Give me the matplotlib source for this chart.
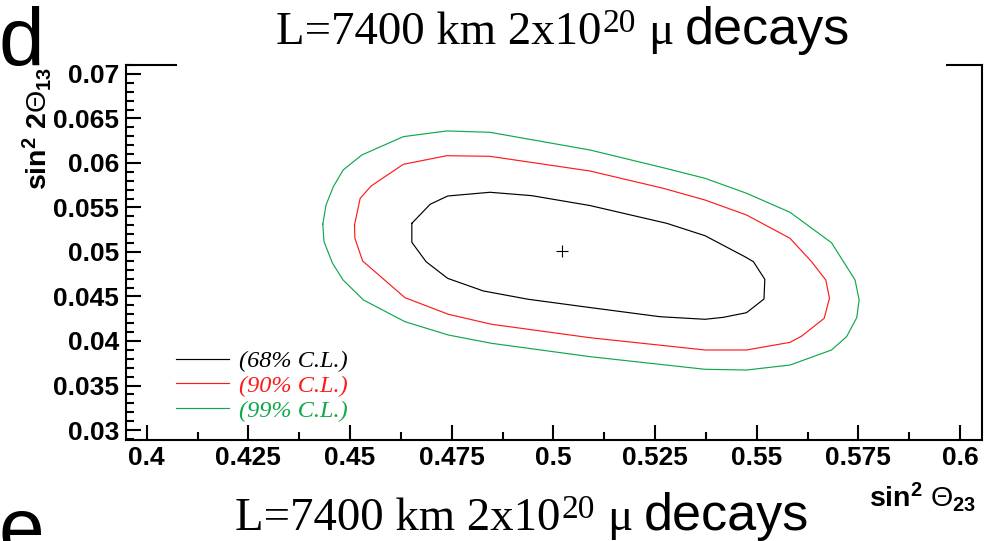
import numpy as np
import matplotlib
matplotlib.use("Agg")
import matplotlib.pyplot as plt
from matplotlib.patches import Rectangle
from matplotlib.font_manager import FontProperties

plt.rcParams['font.family'] = ['Liberation Sans', 'DejaVu Sans']
plt.rcParams['mathtext.fontset'] = 'custom'
plt.rcParams['mathtext.rm'] = 'Liberation Sans'
plt.rcParams['mathtext.bf'] = 'Liberation Sans:bold'
plt.rcParams['mathtext.it'] = 'Liberation Sans:italic'

# best fit point (sin^2 theta23, sin^2 2theta13)
best_fit = (0.5022, 0.05015)

# confidence level contours
cl68_x = [0.4652, 0.4697, 0.4740, 0.4844, 0.4947, 0.5090, 0.5279, 0.5373,
          0.5471, 0.5492, 0.5520, 0.5518, 0.5475, 0.5418, 0.5373, 0.5262,
          0.5090, 0.4938, 0.4828, 0.4740, 0.4687, 0.4652]
cl68_y = [0.05322, 0.05536, 0.05629, 0.05671, 0.05633, 0.05522, 0.05322, 0.05183,
          0.04947, 0.04891, 0.04693, 0.04472, 0.04318, 0.04266, 0.04244, 0.04273,
          0.04376, 0.04469, 0.04562, 0.04704, 0.04891, 0.05109]

cl90_x = [0.4511, 0.4525, 0.4552, 0.4631, 0.4738, 0.4844, 0.5090, 0.5270,
          0.5373, 0.5475, 0.5582, 0.5635, 0.5670, 0.5679, 0.5666, 0.5611,
          0.5582, 0.5475, 0.5373, 0.5090, 0.4848, 0.4742, 0.4635, 0.4531, 0.4512]
cl90_y = [0.05303, 0.05603, 0.05742, 0.05985, 0.06082, 0.06075, 0.05910, 0.05716,
          0.05584, 0.05416, 0.05154, 0.04891, 0.04685, 0.04480, 0.04255, 0.04056,
          0.03985, 0.03899, 0.03899, 0.04037, 0.04188, 0.04300, 0.04487, 0.04899, 0.05154]

cl99_x = [0.4433, 0.4441, 0.4459, 0.4483, 0.4529, 0.4631, 0.4738, 0.4844,
          0.5090, 0.5270, 0.5373, 0.5475, 0.5582, 0.5684, 0.5742, 0.5752,
          0.5746, 0.5721, 0.5684, 0.5582, 0.5475, 0.5373, 0.5090, 0.4848,
          0.4742, 0.4635, 0.4533, 0.4483, 0.4457, 0.4436]
cl99_y = [0.05311, 0.05528, 0.05734, 0.05921, 0.06090, 0.06296, 0.06360, 0.06345,
          0.06146, 0.05947, 0.05828, 0.05660, 0.05446, 0.05104, 0.04685, 0.04461,
          0.04262, 0.04048, 0.03899, 0.03730, 0.03674, 0.03682, 0.03824, 0.03974,
          0.04067, 0.04217, 0.04461, 0.04685, 0.04873, 0.05116]

cl_labels = ["(68% C.L.)", "(90% C.L.)", "(99% C.L.)"]
cl_colors = ["black", "#ff1a1a", "#10a84a"]

x_ticks = [0.4, 0.425, 0.45, 0.475, 0.5, 0.525, 0.55, 0.575, 0.6]
x_tick_labels = ["0.4", "0.425", "0.45", "0.475", "0.5", "0.525", "0.55", "0.575", "0.6"]
y_ticks = [0.03, 0.035, 0.04, 0.045, 0.05, 0.055, 0.06, 0.065, 0.07]
y_tick_labels = ["0.03", "0.035", "0.04", "0.045", "0.05", "0.055", "0.06", "0.065", "0.07"]

W, H = 994, 541


def closed(xs, ys):
    return np.append(xs, xs[0]), np.append(ys, ys[0])


def draw_title(fig, renderer, x0, base):
    # title mixes Times pieces with a Helvetica word, laid out left to right
    serif = 'Liberation Serif'
    sans = 'Liberation Sans'
    pieces = [("L=7400 km 2x10", serif, 33.7, 0, 0),
              ("20", serif, 24, 12, 1),
              ("\u03bc", serif, 34, 0, 12),
              ("decays", sans, 37.5, 0, 12)]
    x = x0
    for text, fam, size, rise, gap in pieces:
        x += gap
        t = fig.text(x / W, (H - base + rise) / H, text, family=fam,
                     fontsize=size, ha='left', va='baseline', zorder=5)
        x = t.get_window_extent(renderer).x1


fig = plt.figure(figsize=(W / 100, H / 100), dpi=100)
ax = fig.add_axes([126 / W, 101.5 / H, 856 / W, 374.5 / H])

handles = []
for xs, ys, c in zip([cl68_x, cl90_x, cl99_x], [cl68_y, cl90_y, cl99_y], cl_colors):
    cx, cy = closed(xs, ys)
    ln, = ax.plot(cx, cy, color=c, lw=0.85)
    handles.append(ln)
ax.plot(best_fit[0], best_fit[1], marker='+', ms=9, mew=0.8, color='black')

ax.set_xlim(0.39491, 0.60541)
ax.set_ylim(0.028933, 0.07101)
ax.set_xticks(x_ticks, labels=x_tick_labels)
ax.set_yticks(y_ticks, labels=y_tick_labels)
ax.set_xticks(np.arange(0.4, 0.6, 0.0125), minor=True)
ax.set_yticks(np.arange(0.029, 0.0711, 0.001), minor=True)
ax.tick_params(which='both', direction='in', width=1.5, top=False, right=False,
               labelsize=19)
ax.tick_params(which='major', length=10.8)
ax.tick_params(which='minor', length=5.8)
ax.tick_params(axis='x', pad=5)
ax.tick_params(axis='y', pad=5)
for lab in ax.get_xticklabels() + ax.get_yticklabels():
    lab.set_fontweight('bold')
for sp in ax.spines.values():
    sp.set_linewidth(1.5)

ax.set_xlabel(r"$\mathbf{sin}^{\mathbf{2}}\ \Theta_{\mathbf{23}}$", fontsize=20.5,
              ha='right', va='baseline')
ax.xaxis.set_label_coords(1 - 6 / 856, (439.5 - 507) / 374.5)
ax.set_ylabel(r"$\mathbf{sin}^{\mathbf{2}}\ \mathbf{2}\Theta_{\mathbf{13}}$", fontsize=20.5,
              ha='right', va='baseline', rotation_mode='anchor')
ax.yaxis.set_label_coords((47 - 126) / 856, (439.5 - 67) / 374.5)

leg = ax.legend(handles, cl_labels, loc='upper left', bbox_to_anchor=(0.058, 0.239),
                frameon=False, labelcolor='linecolor',
                prop=FontProperties(family='Liberation Serif', style='italic', size=17.5),
                handlelength=2.2, handletextpad=0.4, labelspacing=0.12,
                borderpad=0, borderaxespad=0)

# white title pad that interrupts the top frame line
fig.add_artist(Rectangle((176.7 / W, (H - 67) / H), (946 - 176.7) / W, 67 / H,
                         transform=fig.transFigure, facecolor='white',
                         edgecolor='none', zorder=3))

renderer = fig.canvas.get_renderer()
draw_title(fig, renderer, 276, 44)
draw_title(fig, renderer, 235, 530)

fig.text(-2 / W, (H - 65) / H, "d", fontsize=59, ha='left', va='baseline')
fig.text(-2 / W, (H - 555) / H, "e", fontsize=59, ha='left', va='baseline')

fig.savefig("out.png", dpi=100)
